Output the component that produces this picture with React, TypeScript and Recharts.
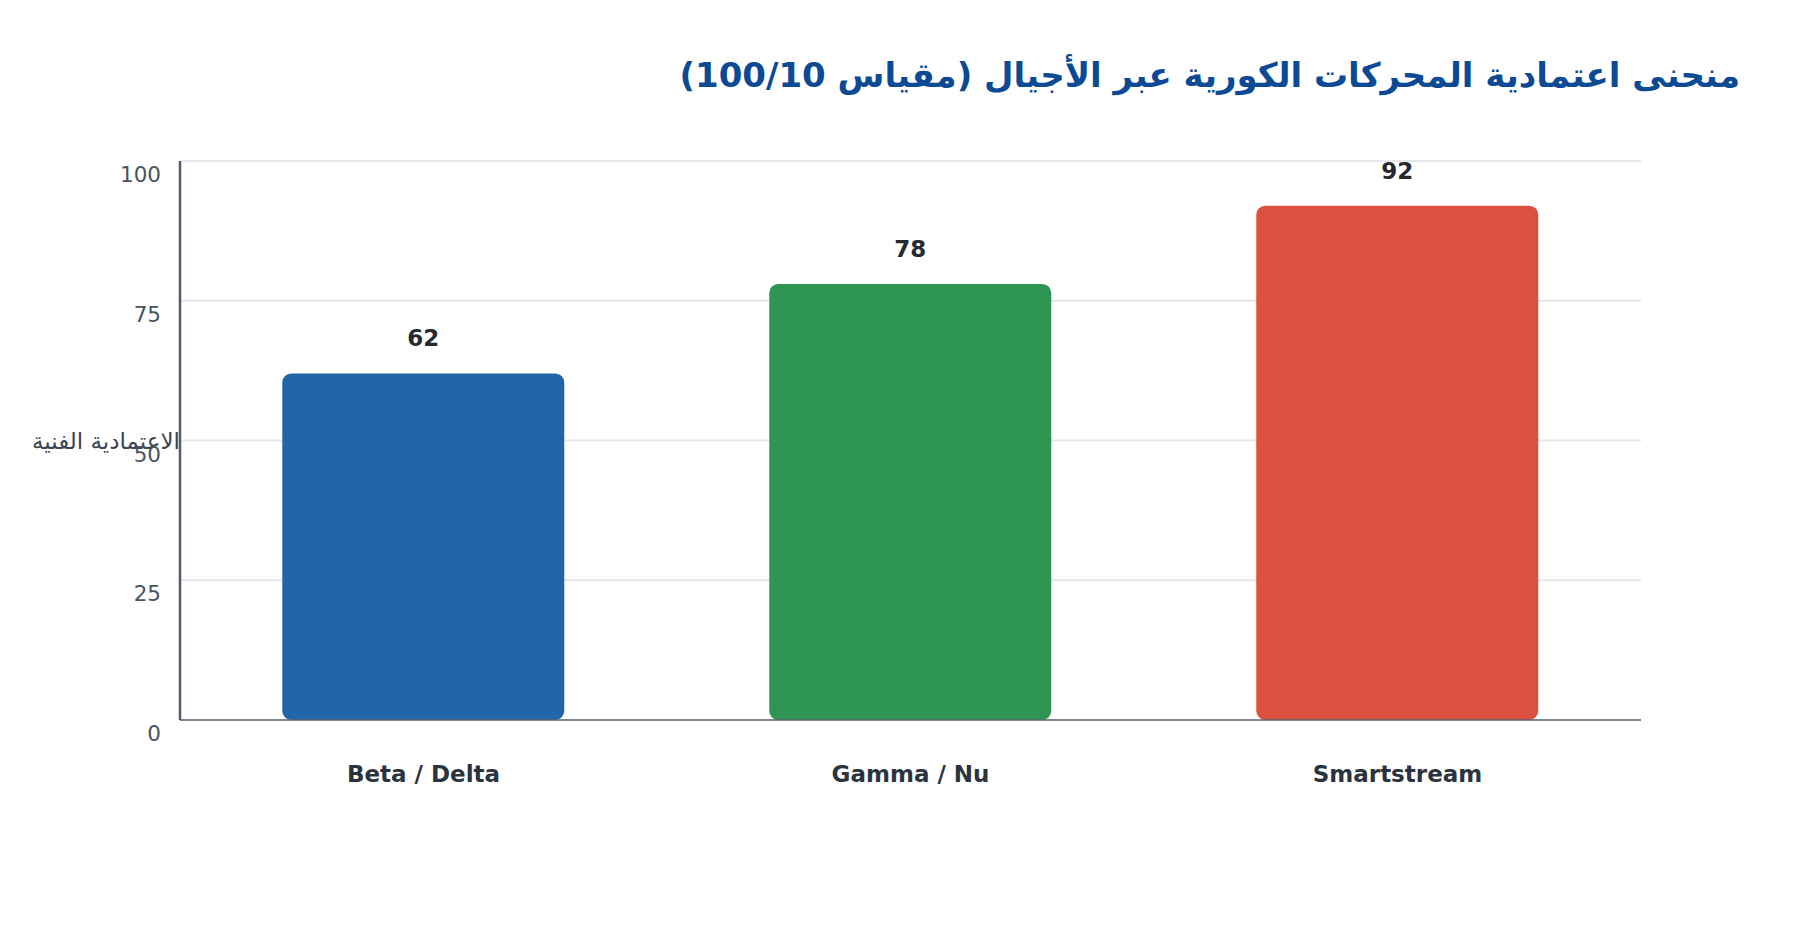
import { BarChart, Bar, XAxis, YAxis, CartesianGrid, Cell, LabelList } from 'recharts';

const engines = ['Beta / Delta', 'Gamma / Nu', 'Smartstream'];
const reliability = [62, 78, 92];
const barColors = ['#2266aa', '#2e9552', '#dc5040'];
const yTicks = [0, 25, 50, 75, 100];

const data = engines.map((name, i) => ({ name, value: reliability[i] }));

const FONT = '"DejaVu Sans", sans-serif';

function YTick(props: any) {
  const { x, y, payload } = props;
  return (
    <text x={x} y={y} dy={21} textAnchor="end" fill="#4a5463" fontSize={21.5} fontFamily={FONT}>
      {payload.value}
    </text>
  );
}

function XTick(props: any) {
  const { x, y, payload } = props;
  return (
    <text x={x} y={y} dy={62} textAnchor="middle" fill="#2b333f" fontSize={23} fontWeight="bold" fontFamily={FONT}>
      {payload.value}
    </text>
  );
}

function YLabel(props: any) {
  const { viewBox } = props;
  if (!viewBox) return null;
  const x = viewBox.x + viewBox.width;
  const y = viewBox.y + viewBox.height / 2;
  return (
    <text x={x} y={y} dy={8} textAnchor="end" fill="#3b4452" fontSize={23} fontFamily={FONT}>
      الاعتمادية الفنية
    </text>
  );
}

function ValueLabel(props: any) {
  const { x, y, width, value } = props;
  return (
    <text x={x + width / 2} y={y - 27} textAnchor="middle" fill="#262a30" fontSize={23} fontWeight="bold" fontFamily={FONT}>
      {value}
    </text>
  );
}

export default function App() {
  return (
    <div style={{ position: 'absolute', left: 0, top: 0, width: 1800, height: 930, background: '#fff', fontFamily: FONT }}>
      <div
        style={{
          position: 'absolute',
          right: 60,
          top: 55,
          direction: 'rtl',
          fontSize: 34,
          lineHeight: '40px',
          fontWeight: 'bold',
          color: '#0c4a94',
          whiteSpace: 'nowrap',
        }}
      >
        منحنى اعتمادية المحركات الكورية عبر الأجيال (مقياس 100/10)
      </div>
      <BarChart
        width={1800}
        height={930}
        data={data}
        margin={{ top: 161, right: 159, bottom: 150, left: 100 }}
        barCategoryGap="21%"
      >
        <CartesianGrid vertical={false} stroke="#e5e7eb" strokeWidth={2} />
        <XAxis
          dataKey="name"
          height={60}
          tickLine={false}
          tickSize={0}
          tickMargin={0}
          stroke="#5a6372"
          strokeWidth={1.5}
          tick={<XTick />}
          interval={0}
        />
        <YAxis
          width={80}
          domain={[0, 100]}
          ticks={yTicks}
          tickLine={false}
          tickSize={0}
          tickMargin={19}
          stroke="#535c6a"
          strokeWidth={2.5}
          tick={<YTick />}
          label={<YLabel />}
        />
        <Bar dataKey="value" radius={[9, 9, 9, 9]} isAnimationActive={false}>
          {data.map((d, i) => (
            <Cell key={d.name} fill={barColors[i]} />
          ))}
          <LabelList dataKey="value" content={<ValueLabel />} />
        </Bar>
      </BarChart>
    </div>
  );
}
